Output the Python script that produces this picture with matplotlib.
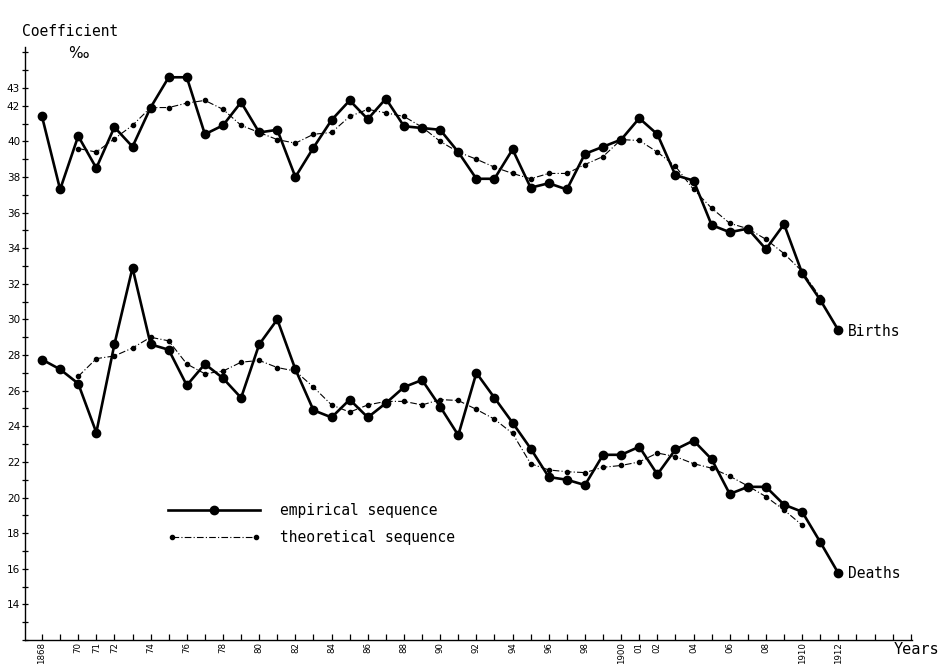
import matplotlib
matplotlib.use("Agg")
import matplotlib.pyplot as plt
from matplotlib.ticker import FixedLocator, MultipleLocator
from matplotlib.legend_handler import HandlerLine2D

years = list(range(1868, 1913))
theo_years = list(range(1870, 1912))
theo_years_d = list(range(1870, 1911))

births_emp = [41.4, 37.3, 40.3, 38.5, 40.8, 39.7, 41.9, 43.6, 43.6, 40.4,
              40.9, 42.2, 40.5, 40.65, 38.0, 39.65, 41.2, 42.3, 41.25, 42.4,
              40.85, 40.75, 40.65, 39.4, 37.9, 37.9, 39.55, 37.4, 37.65, 37.3,
              39.3, 39.7, 40.1, 41.3, 40.4, 38.1, 37.8, 35.3, 34.9, 35.1,
              33.95, 35.35, 32.6, 31.1, 29.4]
births_theo = [39.6, 39.4, 40.15, 40.9, 41.9, 41.9, 42.15, 42.3, 41.8, 40.9,
               40.5, 40.1, 39.9, 40.4, 40.5, 41.4, 41.8, 41.6, 41.4, 40.8,
               40.0, 39.4, 39.0, 38.55, 38.2, 37.9, 38.2, 38.2, 38.7, 39.15,
               40.1, 40.05, 39.4, 38.6, 37.3, 36.25, 35.4, 35.1, 34.5, 33.7,
               32.7, 31.25]
deaths_emp = [27.75, 27.2, 26.4, 23.65, 28.6, 32.9, 28.6, 28.3, 26.3, 27.5,
              26.7, 25.6, 28.6, 30.0, 27.2, 24.9, 24.5, 25.5, 24.5, 25.3,
              26.2, 26.6, 25.1, 23.5, 27.0, 25.6, 24.2, 22.75, 21.15, 21.0,
              20.7, 22.4, 22.4, 22.85, 21.3, 22.7, 23.2, 22.15, 20.2, 20.6,
              20.6, 19.6, 19.2, 17.5, 15.75]
deaths_theo = [26.8, 27.8, 27.95, 28.4, 29.0, 28.8, 27.5, 26.95, 27.1, 27.6,
               27.7, 27.3, 27.1, 26.2, 25.2, 24.8, 25.2, 25.4, 25.4, 25.2,
               25.5, 25.45, 24.95, 24.4, 23.6, 21.9, 21.55, 21.45, 21.4, 21.7,
               21.8, 22.0, 22.5, 22.3, 21.9, 21.65, 21.2, 20.65, 20.05, 19.3,
               18.45]

xtick_years = [1868, 1870, 1871, 1872, 1874, 1876, 1878, 1880, 1882, 1884,
               1886, 1888, 1890, 1892, 1894, 1896, 1898, 1900, 1901, 1902,
               1904, 1906, 1908, 1910, 1912]
xtick_labels = ['1868', '70', '71', '72', '74', '76', '78', '80', '82', '84',
                '86', '88', '90', '92', '94', '96', '98', '1900', '01', '02',
                '04', '06', '08', '1910', '1912']
ytick_values = [14, 16, 18, 20, 22, 24, 26, 28, 30, 32, 34, 36, 38, 40, 42, 43]

W, H = 947, 664
fig = plt.figure(figsize=(W / 100, H / 100), dpi=100)
fig.patch.set_facecolor('white')
ax = fig.add_axes([25 / W, 24 / H, (912 - 25) / W, (640 - 47) / H])
ax.set_xlim(1867.06, 1916.07)
ax.set_ylim(12, 45.3)

emp_style = dict(color='black', lw=1.9, marker='o', ms=6.0,
                 mfc='black', mec='black', solid_joinstyle='round')
theo_style = dict(color='black', lw=0.8, linestyle=(0, (6, 2, 1, 2)),
                  marker='o', ms=3.0, mfc='black', mec='black')

l_emp, = ax.plot(years, births_emp, **emp_style, label='empirical sequence', zorder=3)
l_theo, = ax.plot(theo_years, births_theo, **theo_style, label='theoretical sequence', zorder=4)
ax.plot(years, deaths_emp, **emp_style, zorder=3)
ax.plot(theo_years_d, deaths_theo, **theo_style, zorder=4)

txtfont = 'DejaVu Sans Mono'
ax.annotate('Births', xy=(years[-1], births_emp[-1]), xytext=(7, -1),
            textcoords='offset points', va='center', ha='left',
            fontsize=10.5, family=txtfont)
ax.annotate('Deaths', xy=(years[-1], deaths_emp[-1]), xytext=(7, 0),
            textcoords='offset points', va='center', ha='left',
            fontsize=10.5, family=txtfont)

for s in ['top', 'right']:
    ax.spines[s].set_visible(False)
ax.spines['left'].set_linewidth(1.0)
ax.spines['bottom'].set_linewidth(1.0)

ax.xaxis.set_major_locator(FixedLocator(xtick_years))
ax.set_xticklabels(xtick_labels, rotation=90, fontsize=6.2)
ax.xaxis.set_minor_locator(MultipleLocator(1))
ax.tick_params(axis='x', which='both', direction='in', length=4, width=0.9, pad=1.5)

ax.yaxis.set_major_locator(FixedLocator(ytick_values))
ax.set_yticklabels([str(v) for v in ytick_values], fontsize=7.5)
ax.yaxis.set_minor_locator(MultipleLocator(1))
ax.tick_params(axis='y', which='both', direction='inout', length=5, width=0.9, pad=1)

fig.text(22 / W, 1 - 31 / H, 'Coefficient', fontsize=10.5, family=txtfont,
         ha='left', va='center')
fig.text(78 / W, 1 - 53 / H, '‰', fontsize=11, family='DejaVu Sans',
         ha='center', va='center')
fig.text(916 / W, 1 - 650 / H, 'Years', fontsize=11, family=txtfont,
         ha='center', va='center')

leg = ax.legend(handles=[l_emp, l_theo], loc='upper left',
                bbox_to_anchor=(168 / W, 1 - 503 / H),
                bbox_transform=fig.transFigure, frameon=False,
                prop={'family': txtfont, 'size': 10.5},
                handlelength=6.3, handletextpad=1.4, labelspacing=0.8,
                borderpad=0, borderaxespad=0,
                handler_map={l_emp: HandlerLine2D(numpoints=1),
                             l_theo: HandlerLine2D(numpoints=2)})

fig.savefig('out.png', dpi=100, facecolor='white')
